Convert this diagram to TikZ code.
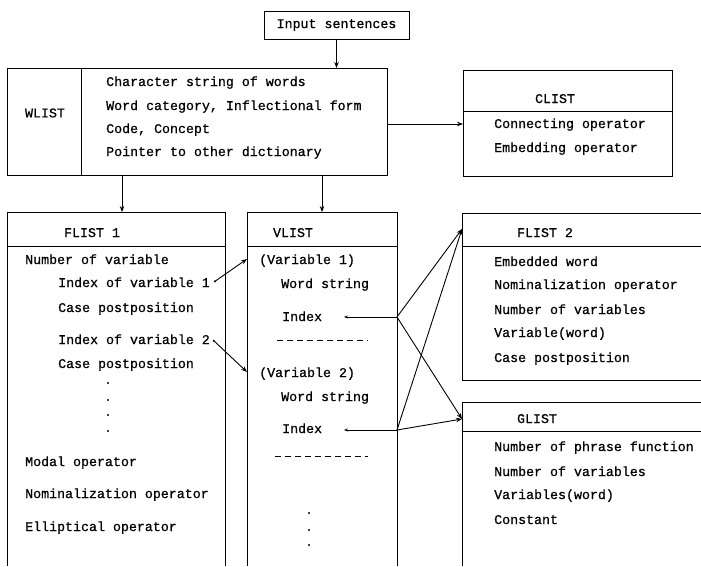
\documentclass[tikz,border=0pt]{standalone}
\usepackage{fontspec}
\newfontfamily\reffont[FakeBold=0.7]{Liberation Mono}
\usetikzlibrary{arrows.meta}
\begin{document}
\begin{tikzpicture}[x=1pt,y=-1pt,
  every node/.style={font=\reffont\fontsize{13.3}{16}\selectfont, inner sep=0pt},
  txt/.style={anchor=base west},
  ttl/.style={anchor=base},
  box/.style={line width=0.9pt},
  conn/.style={line width=0.9pt,-{Stealth[length=6pt,width=4.5pt]}},
  sconn/.style={line width=0.9pt,{Circle[length=2pt]}-{Stealth[length=6pt,width=4.5pt]}},
  iconn/.style={line width=0.9pt,-{Stealth[length=4pt,width=3pt]}},
  dashline/.style={line width=1pt,dash pattern=on 6pt off 4pt},
  dotmark/.style={radius=1.2pt}]
\useasboundingbox (0,0) rectangle (701,566);

% ---------- Input sentences ----------
\node[draw,box,minimum width=145pt,minimum height=28pt] (inp) at (336.5,25) {Input sentences};
\coordinate (wl-n) at (336.5,68);
\draw[conn] (inp.south) -- (wl-n);

% ---------- WLIST ----------
\draw[box] (7,68) rectangle (387,175);
\draw[box] (81,68) -- (81,175);
\node (wl) at (45,113) {WLIST};
\node[txt] (wl1) at (106,86) {Character string of words};
\node[txt] (wl2) at (106,110) {Word category, Inflectional form};
\node[txt] (wl3) at (106,133) {Code, Concept};
\node[txt] (wl4) at (106,156) {Pointer to other dictionary};
\coordinate (wl-s1) at (122,175);
\coordinate (wl-s2) at (322,175);
\coordinate (wl-e) at (387,124);

% ---------- CLIST ----------
\draw[box] (463,70) rectangle (672,176);
\draw[box] (463,111) -- (672,111);
\node[ttl] (cl) at (555,103) {CLIST};
\node[txt] (cl1) at (494,128) {Connecting operator};
\node[txt] (cl2) at (494,152) {Embedding operator};
\coordinate (cl-w) at (463,124);
\draw[conn] (wl-e) -- (cl-w);

% ---------- FLIST 1 ----------
\draw[box] (7,566) -- (7,212) -- (225,212) -- (225,566);
\draw[box] (7,246) -- (225,246);
\coordinate (f1-n) at (122,212);
\node[ttl] (f1) at (92,237) {FLIST 1};
\node[txt] (f1a) at (25,264) {Number of variable};
\node[txt] (f1b) at (58,287) {Index of variable 1};
\node[txt] (f1c) at (58,312) {Case postposition};
\node[txt] (f1d) at (58,344) {Index of variable 2};
\node[txt] (f1e) at (58,368) {Case postposition};
\foreach \yy in {383,400,415,431} \fill (108,\yy) circle[dotmark];
\node[txt] (f1f) at (25,466) {Modal operator};
\node[txt] (f1g) at (25,498) {Nominalization operator};
\node[txt] (f1h) at (25,531) {Elliptical operator};

% ---------- VLIST ----------
\draw[box] (247,566) -- (247,212) -- (397,212) -- (397,566);
\draw[box] (247,246) -- (397,246);
\coordinate (vl-n) at (322,212);
\node[ttl] (vl) at (293,237) {VLIST};
\node[txt] (v1) at (259,264) {(Variable 1)};
\node[txt] (v1w) at (281,288) {Word string};
\node[txt] (v1i) at (282,321) {Index};
\draw[dashline] (277,340) -- (368,340);
\node[txt] (v2) at (259,377) {(Variable 2)};
\node[txt] (v2w) at (281,401) {Word string};
\node[txt] (v2i) at (282,433) {Index};
\draw[dashline] (275,456) -- (368,456);
\foreach \yy in {513,530,545} \fill (309,\yy) circle[dotmark];

\draw[conn] (wl-s1) -- (f1-n);
\draw[conn] (wl-s2) -- (vl-n);

% ---------- FLIST 2 ----------
\draw[box] (701,213) -- (462,213) -- (462,380) -- (701,380);
\draw[box] (462,246) -- (701,246);
\node[ttl] (f2) at (545,237) {FLIST 2};
\node[txt] (f2a) at (494,266) {Embedded word};
\node[txt] (f2b) at (494,289) {Nominalization operator};
\node[txt] (f2c) at (494,314) {Number of variables};
\node[txt] (f2d) at (494,337) {Variable(word)};
\node[txt] (f2e) at (494,362) {Case postposition};
\coordinate (f2-in) at (462,229);

% ---------- GLIST ----------
\draw[box] (701,402) -- (462,402) -- (462,566);
\draw[box] (462,431) -- (701,431);
\node[ttl] (gl) at (537,423) {GLIST};
\node[txt] (g1) at (494,451) {Number of phrase function};
\node[txt] (g2) at (494,476) {Number of variables};
\node[txt] (g3) at (494,499) {Variables(word)};
\node[txt] (g4) at (494,524) {Constant};
\coordinate (gl-in) at (462,419);

% ---------- variable pointers ----------
\coordinate (iv1) at (214,282);
\coordinate (v1-in) at (247,259);
\coordinate (iv2) at (213,340);
\coordinate (v2-in) at (247,372);
\draw[sconn] (iv1) -- (v1-in);
\draw[sconn] (iv2) -- (v2-in);

% ---------- index pointers ----------
\coordinate (j1) at (397,317);
\coordinate (j1t) at (344,317);
\coordinate (j2) at (397,430);
\coordinate (j2t) at (344,430);
\draw[iconn] (j1) -- (j1t);
\draw[iconn] (j2) -- (j2t);
\draw[conn] (j1) -- (f2-in);
\draw[conn] (j1) -- (gl-in);
\draw[conn] (j2) -- (f2-in);
\draw[conn] (j2) -- (gl-in);
\end{tikzpicture}
\end{document}
